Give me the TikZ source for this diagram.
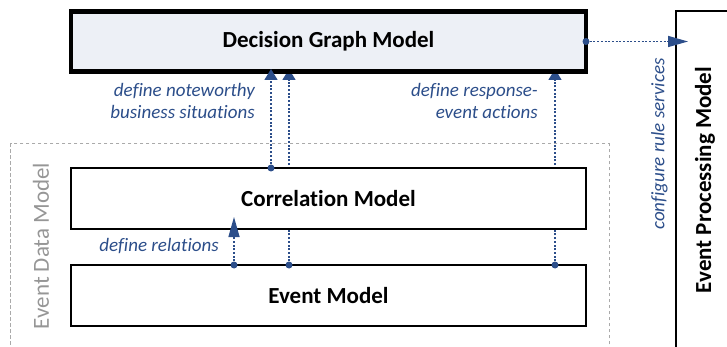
\documentclass[tikz,border=0pt]{standalone}
\usepackage{fontspec}
\setmainfont{Carlito}[Ligatures=NoCommon]
\usetikzlibrary{arrows.meta,backgrounds}
\definecolor{lnk}{RGB}{44,78,138}
\definecolor{dgmfill}{RGB}{237,240,246}
\definecolor{edmline}{RGB}{170,170,170}
\definecolor{edmtext}{RGB}{150,150,150}
\begin{document}
\begin{tikzpicture}[x=1pt,y=-1pt,
  box/.style={draw=black, line width=1.3pt, fill=white, minimum width=515pt, minimum height=61pt, inner sep=0pt, outer sep=0pt, font=\fontsize{23}{27}\selectfont\bfseries},
  conn/.style={draw=lnk, line width=1.5pt, dash pattern=on 2pt off 1.7pt},
  shorttip/.style={-{Triangle[length=11pt,width=13pt]}},
  longtip/.style={-{Triangle[length=20pt,width=11pt]}},
  lbl/.style={text=lnk, font=\fontsize{19}{22}\selectfont\itshape, inner sep=0pt},
  dot/.style={circle, fill=lnk, inner sep=0pt, minimum size=7pt},
  edmbox/.style={draw=edmline, line width=1pt, dash pattern=on 3.5pt off 2.5pt, minimum width=598.3pt, minimum height=250pt, anchor=north west, inner sep=0pt, outer sep=0pt},
]
\useasboundingbox (0,0) rectangle (727,347);
\clip (0,0) rectangle (727,347);

% boxes
\node[box, fill=dgmfill, line width=4.6pt, minimum height=60.5pt] (dgm) at (328.5,41.5) {Decision Graph Model};
\node[box] (corr) at (328.5,198.5) {Correlation Model};
\node[box] (evt) at (328.5,295.5) {Event Model};
\node[draw, line width=1.3pt, anchor=north west, minimum width=100pt, minimum height=400pt, inner sep=0pt, outer sep=0pt] (epm) at (676,11) {};
\node[rotate=90, font=\fontsize{23}{27}\selectfont\bfseries] (epmtxt) at (705,180) {Event Processing Model};

% column coordinates
\coordinate (xa) at (271,0);
\coordinate (xb) at (289,0);
\coordinate (xc) at (555,0);
\coordinate (xr) at (234,0);

% dots
\node[dot] (da) at (corr.north -| xa) {};
\node[dot] (db) at (evt.north -| xb) {};
\node[dot] (dc) at (evt.north -| xc) {};
\node[dot] (dr) at (evt.north -| xr) {};
\node[dot] (de) at (dgm.east) {};

\begin{scope}[on background layer]
  \node[edmbox] (edm) at (10.7,144) {};
  \draw[conn, shorttip] (db.center) -- ([yshift=2.75pt]dgm.south -| db);
  \draw[conn, shorttip] (dc.center) -- ([yshift=2.75pt]dgm.south -| dc);
\end{scope}

\node[rotate=90, text=edmtext, font=\fontsize{23}{27}\selectfont] (edmtxt) at (41,246) {Event Data Model};

% connectors on top
\draw[conn, shorttip] (da.center) -- ([yshift=2.75pt]dgm.south -| da);
\draw[conn, longtip] (dr.center) -- ([yshift=12pt]corr.south -| dr);
\draw[conn, longtip] (de.center) -- ([xshift=12pt]epm.west |- de);

% labels
\node[lbl, align=right, anchor=east] (l1) at (255,101) {define noteworthy\\business situations};
\node[lbl, align=right, anchor=east] (l2) at (538,101) {define response-\\event actions};
\node[lbl, anchor=east] (l3) at (219,246.5) {define relations};
\node[lbl, rotate=90] (l4) at (659.5,144) {configure rule services};
\end{tikzpicture}
\end{document}
